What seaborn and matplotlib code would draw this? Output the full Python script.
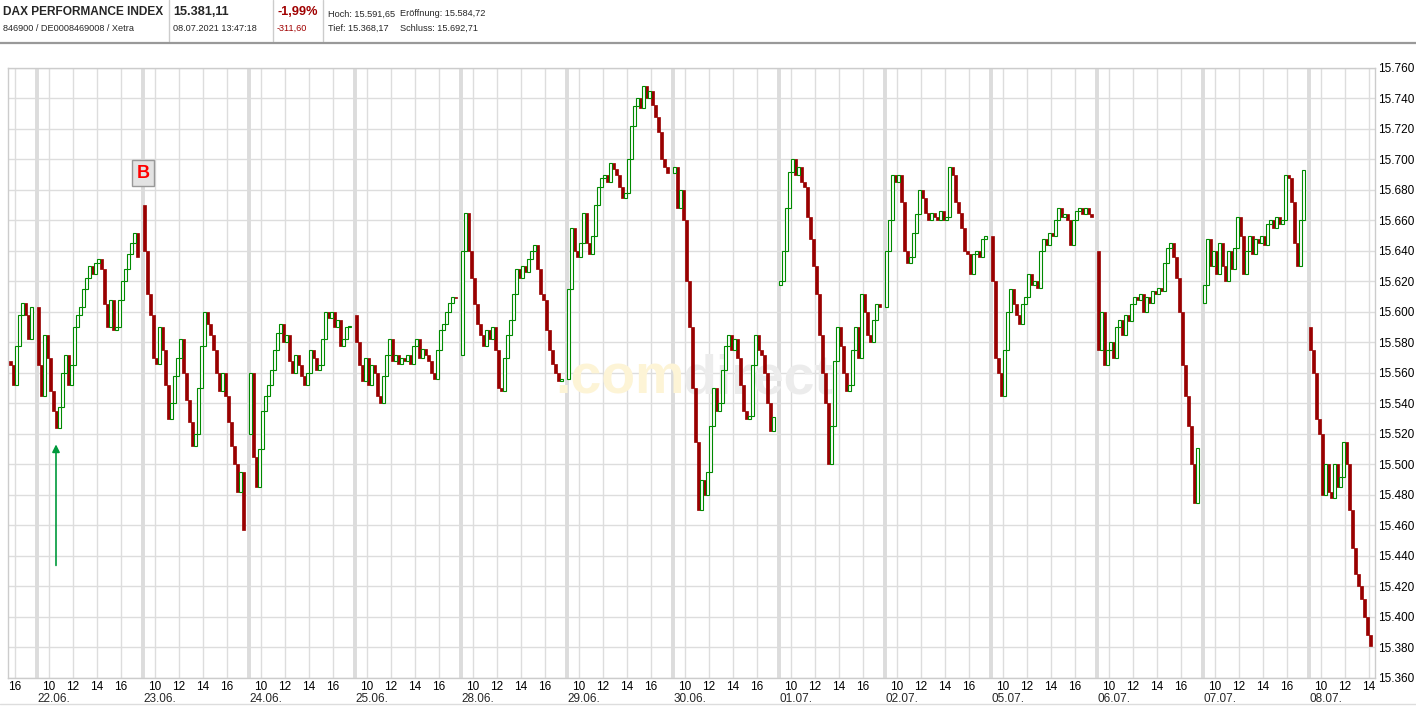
import numpy as np
import pandas as pd
import seaborn as sns
import matplotlib.pyplot as plt
from matplotlib.lines import Line2D

# DAX intraday, 15 minute candles (21.06. only from 15:30)
day_labels = ['21.06.', '22.06.', '23.06.', '24.06.', '25.06.', '28.06.', '29.06.',
              '30.06.', '01.07.', '02.07.', '05.07.', '06.07.', '07.07.', '08.07.']
day_first_slot = [26, 0, 0, 0, 0, 0, 0, 0, 0, 0, 0, 0, 0, 0]
day_open = [15568, 15603, 15670, 15520, 15598, 15572, 15556,
            15691, 15618, 15603, 15650, 15640, 15606, 15590]

c_2106 = [15565, 15552, 15578, 15598, 15606, 15598, 15582, 15603]
c_2206 = [15565, 15545, 15585, 15570, 15548, 15535, 15524, 15538, 15560, 15572,
          15552, 15565, 15590, 15598, 15603, 15615, 15622, 15630, 15625, 15632,
          15635, 15628, 15605, 15590, 15608, 15588, 15590, 15608, 15620, 15628,
          15638, 15645, 15652, 15636]
c_2306 = [15640, 15612, 15598, 15570, 15566, 15590, 15575, 15552, 15530, 15540,
          15558, 15570, 15582, 15560, 15542, 15528, 15512, 15520, 15550, 15578,
          15600, 15592, 15585, 15575, 15560, 15548, 15560, 15545, 15528, 15512,
          15500, 15482, 15495, 15457]
c_2406 = [15560, 15505, 15485, 15510, 15535, 15545, 15552, 15562, 15575, 15586,
          15592, 15580, 15585, 15568, 15560, 15572, 15565, 15558, 15552, 15560,
          15575, 15570, 15562, 15565, 15582, 15600, 15596, 15600, 15590, 15595,
          15578, 15582, 15590, 15590]
c_2506 = [15580, 15565, 15555, 15570, 15552, 15565, 15560, 15545, 15540, 15558,
          15572, 15582, 15568, 15572, 15566, 15570, 15568, 15572, 15566, 15578,
          15582, 15570, 15576, 15572, 15568, 15560, 15556, 15575, 15588, 15592,
          15600, 15606, 15610, 15609]
c_2806 = [15640, 15665, 15640, 15622, 15605, 15592, 15585, 15578, 15588, 15582,
          15590, 15575, 15550, 15548, 15570, 15585, 15595, 15612, 15628, 15622,
          15630, 15626, 15635, 15640, 15644, 15628, 15612, 15608, 15588, 15575,
          15566, 15560, 15555, 15555]
c_2906 = [15615, 15655, 15640, 15636, 15645, 15665, 15645, 15638, 15650, 15670,
          15682, 15688, 15690, 15685, 15698, 15694, 15690, 15682, 15675, 15678,
          15700, 15722, 15735, 15740, 15734, 15748, 15740, 15745, 15736, 15728,
          15718, 15700, 15695, 15691]
c_3006 = [15695, 15668, 15680, 15660, 15620, 15590, 15550, 15515, 15470, 15490,
          15480, 15495, 15525, 15550, 15535, 15540, 15562, 15578, 15585, 15575,
          15582, 15570, 15552, 15535, 15530, 15532, 15565, 15585, 15575, 15572,
          15560, 15540, 15522, 15531]
c_0107 = [15620, 15640, 15668, 15692, 15700, 15690, 15695, 15685, 15682, 15662,
          15648, 15630, 15612, 15585, 15560, 15540, 15500, 15525, 15568, 15590,
          15578, 15560, 15548, 15552, 15575, 15590, 15570, 15612, 15600, 15585,
          15580, 15595, 15605, 15603]
c_0207 = [15640, 15660, 15690, 15685, 15690, 15672, 15640, 15632, 15636, 15652,
          15664, 15680, 15675, 15665, 15660, 15665, 15662, 15660, 15666, 15660,
          15662, 15695, 15690, 15672, 15665, 15655, 15640, 15638, 15625, 15638,
          15640, 15636, 15648, 15650]
c_0507 = [15620, 15570, 15560, 15545, 15575, 15600, 15615, 15605, 15598, 15592,
          15605, 15610, 15625, 15618, 15620, 15616, 15640, 15648, 15644, 15652,
          15650, 15660, 15668, 15662, 15664, 15660, 15644, 15660, 15666, 15668,
          15664, 15668, 15664, 15662]
c_0607 = [15575, 15600, 15565, 15575, 15580, 15570, 15590, 15595, 15585, 15598,
          15594, 15605, 15610, 15608, 15612, 15600, 15610, 15606, 15614, 15612,
          15616, 15614, 15632, 15642, 15645, 15636, 15622, 15600, 15565, 15545,
          15525, 15500, 15475, 15511]
c_0707 = [15618, 15648, 15630, 15640, 15625, 15645, 15630, 15620, 15640, 15628,
          15642, 15662, 15650, 15625, 15640, 15650, 15638, 15648, 15645, 15650,
          15644, 15658, 15660, 15655, 15662, 15658, 15660, 15690, 15688, 15672,
          15645, 15630, 15660, 15693]
c_0807 = [15575, 15560, 15530, 15520, 15480, 15500, 15482, 15478, 15500, 15485,
          15492, 15515, 15500, 15470, 15445, 15428, 15420, 15412, 15400, 15388,
          15381]

day_closes = [c_2106, c_2206, c_2306, c_2406, c_2506, c_2806, c_2906,
              c_3006, c_0107, c_0207, c_0507, c_0607, c_0707, c_0807]

price_ticks = list(range(15360, 15761, 20))

W, H = 1416, 706
DAY_W = 106 / 12  # one trading day incl. gap, in hours
RED = '#990000'
GREEN = '#008a00'
GRID = '#dddddd'

rows = []
for d, (first, o, closes) in enumerate(zip(day_first_slot, day_open, day_closes)):
    for k, c in enumerate(closes):
        x = (d - 1) * DAY_W + (first + k) * 0.25 + 0.125
        rows.append((x, o, c))
        o = c
candles = pd.DataFrame(rows, columns=['x', 'open', 'close'])
candles['up'] = candles['close'] >= candles['open']
candles['h'] = (candles['close'] - candles['open']).where(
    (candles['close'] - candles['open']).abs() > 0.8, 0.8)

sns.set_style('white')
plt.rcParams['font.family'] = ['Liberation Sans', 'DejaVu Sans']

fig = plt.figure(figsize=(W / 100, H / 100), dpi=100)
ax = fig.add_axes([8 / W, 28 / H, 1367 / W, 610 / H])
ax.set_xlim((8 - 37) / 12, (1375 - 37) / 12)
ax.set_ylim(15360, 15760)

# grid
for p in price_ticks:
    ax.axhline(p, color=GRID, lw=1.0, zorder=0)
hour_pos, hour_lab = [], []
for d in range(len(day_labels)):
    base = (d - 1) * DAY_W
    if d == 0:
        hours = [16]
    elif d == len(day_labels) - 1:
        hours = [10, 12, 14]
    else:
        hours = [10, 12, 14, 16]
    for hr in hours:
        hour_pos.append(base + hr - 9)
        hour_lab.append(str(hr))
    if d > 0:
        ax.axvline(base, color='#dcdcdc', lw=2.8, zorder=0)
        ax.text(base + 0.05, -(699 - 678) / 610, day_labels[d],
                transform=ax.get_xaxis_transform(), ha='left', va='center', fontsize=8.5)
for xp in hour_pos:
    ax.axvline(xp, color=GRID, lw=1.0, zorder=0)

ax.set_xticks(hour_pos, hour_lab)
ax.set_yticks(price_ticks, [f'{p / 1000:.3f}' for p in price_ticks])
ax.yaxis.tick_right()
ax.tick_params(axis='both', length=0, labelsize=8.5, colors='black')
ax.tick_params(axis='x', pad=2)
ax.tick_params(axis='y', pad=2)
for s in ax.spines.values():
    s.set_color('#cccccc')
    s.set_linewidth(1.0)

# watermark
ax.text((555 - 37) / 12, 15760 - (393 - 68) / 1.5225, '.com', fontsize=40,
        fontweight='bold', color='#fdf4d6', ha='left', va='baseline', zorder=1)
ax.text((683 - 37) / 12, 15760 - (393 - 68) / 1.5225, 'direct', fontsize=40,
        fontweight='bold', color='#ececec', ha='left', va='baseline', zorder=1)

# candles
up = candles[candles['up']]
dn = candles[~candles['up']]
ax.bar(dn['x'], dn['h'], bottom=dn['open'], width=0.23, color=RED,
       edgecolor=RED, linewidth=0.5, zorder=3)
ax.bar(up['x'], up['h'], bottom=up['open'], width=0.22, facecolor='white',
       edgecolor=GREEN, linewidth=0.8, zorder=3)

# marker B and arrow
ax.text((143 - 37) / 12, 15691, 'B', color='#ff0000', fontsize=13, fontweight='bold',
        ha='center', va='center', zorder=5,
        bbox=dict(boxstyle='square,pad=0.25', facecolor='#e3e3e3', edgecolor='#999999', lw=1))
ax.annotate('', xy=((56 - 37) / 12, 15515), xytext=((56 - 37) / 12, 15432),
            arrowprops=dict(arrowstyle='-|>', color='#00993c', lw=1.2, mutation_scale=11),
            zorder=5)

# header
def fx(x):
    return x / W

def fy(y):
    return 1 - y / H

fig.text(fx(3), fy(12), 'DAX PERFORMANCE INDEX', fontsize=8.6, fontweight='bold', va='center')
fig.text(fx(3), fy(28.5), '846900 / DE0008469008 / Xetra', fontsize=6.6, va='center')
fig.text(fx(173), fy(12), '15.381,11', fontsize=9.2, fontweight='bold', va='center')
fig.text(fx(173), fy(28.5), '08.07.2021 13:47:18', fontsize=6.6, va='center')
fig.text(fx(278), fy(12), '-1,99%', fontsize=9.2, fontweight='bold', color='#a00000', va='center')
fig.text(fx(277), fy(28.5), '-311,60', fontsize=6.6, color='#a00000', va='center')
fig.text(fx(328), fy(14), 'Hoch: 15.591,65', fontsize=6.6, va='center')
fig.text(fx(400), fy(14), 'Eröffnung: 15.584,72', fontsize=6.6, va='center')
fig.text(fx(328), fy(28.5), 'Tief: 15.368,17', fontsize=6.6, va='center')
fig.text(fx(400), fy(28.5), 'Schluss: 15.692,71', fontsize=6.6, va='center')
for xv in [169, 273, 323]:
    fig.add_artist(Line2D([fx(xv)] * 2, [fy(0), fy(41)], color='#cccccc', lw=1))
fig.add_artist(Line2D([0, 1], [fy(42.5)] * 2, color='#999999', lw=1.6))
fig.add_artist(Line2D([0, 1], [fy(704)] * 2, color='#dddddd', lw=1))

fig.savefig('out.png', dpi=100, facecolor='white')
